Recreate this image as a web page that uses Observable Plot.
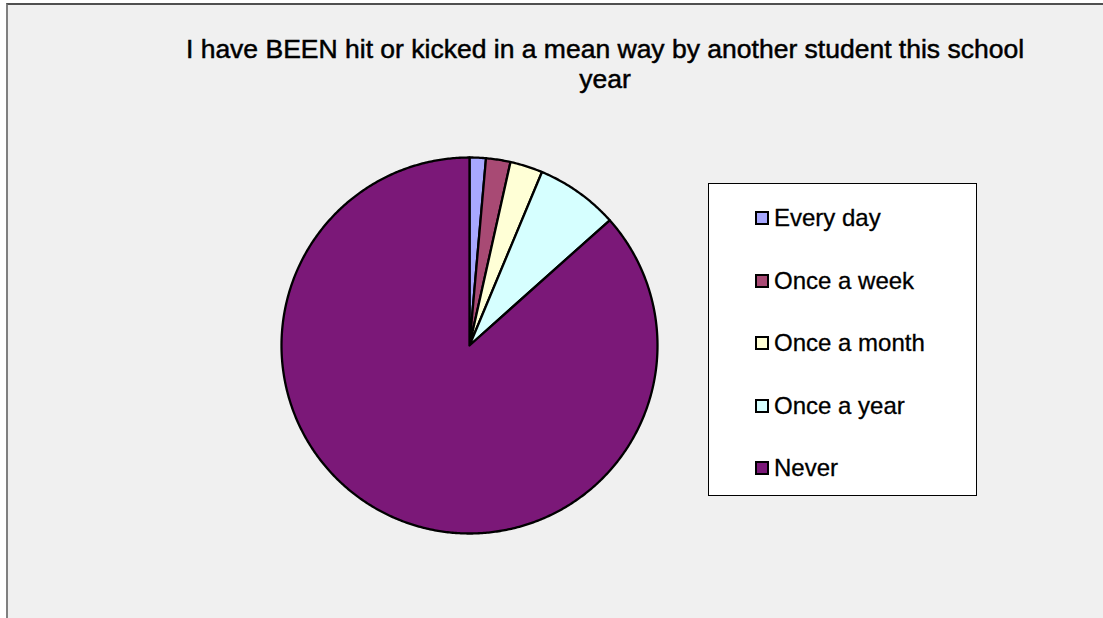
<!DOCTYPE html>
<html>
<head>
<meta charset="utf-8">
<script src="https://cdn.jsdelivr.net/npm/d3@7"></script>
<script src="https://cdn.jsdelivr.net/npm/@observablehq/plot@0.6"></script>
<style>
  html, body { margin: 0; padding: 0; background: #ffffff; width: 1103px; height: 618px; overflow: hidden; font-family: "Liberation Sans", Arial, sans-serif; }
  #frame { position: absolute; left: 6px; top: 3px; width: 1110px; height: 630px; background: #f0f0f0; border-left: 2px solid #808080; border-top: 2px solid #505050; }
  #title { position: absolute; left: 155px; top: 34px; width: 900px; text-align: center; font-size: 26.5px; line-height: 30px; color: #000; -webkit-text-stroke: 0.5px #000; }
  #chart { position: absolute; left: 0; top: 0; }
  #legend { position: absolute; left: 708px; top: 183px; width: 267px; height: 311px; background: #fff; border: 1px solid #000; }
  .item { position: absolute; left: 46px; height: 30px; display: flex; align-items: center; font-size: 24px; color: #000; -webkit-text-stroke: 0.3px #000; }
  .sw { width: 10px; height: 10px; border: 2px solid #000; margin-right: 5px; }
</style>
</head>
<body>
<div id="frame"></div>
<div id="chart"></div>
<div id="title">I have BEEN hit or kicked in a mean way by another student this school<br>year</div>
<div id="legend"></div>
<script>
const categories = ["Every day", "Once a week", "Once a month", "Once a year", "Never"];
const values = [1.4, 2.1, 2.8, 7.1, 86.6];
const colors = ["#a8a8ff", "#a84a74", "#ffffd6", "#d6ffff", "#7b1878"];

const data = categories.map((c, i) => ({label: c, value: values[i]}));
const arcs = d3.pie().sort(null).value(d => d.value)(data);
const pts = [];
for (const a of arcs) {
  const lab = a.data.label;
  pts.push({label: lab, x: 0, y: 0});
  const n = Math.max(2, Math.ceil((a.endAngle - a.startAngle) / (Math.PI / 360)));
  for (let k = 0; k <= n; k++) {
    const t = a.startAngle + (a.endAngle - a.startAngle) * k / n;
    pts.push({label: lab, x: Math.sin(t), y: Math.cos(t)});
  }
  pts.push({label: lab, x: 0, y: 0});
}

const plot = Plot.plot({
  width: 1103,
  height: 618,
  marginLeft: 281,
  marginRight: 446,
  marginTop: 157,
  marginBottom: 85,
  style: {background: "transparent", overflow: "visible"},
  x: {domain: [-1, 1], axis: null},
  y: {domain: [-1, 1], axis: null},
  color: {domain: categories, range: colors},
  marks: [
    Plot.line(pts, {x: "x", y: "y", z: "label", fill: "label", stroke: "#000", strokeWidth: 2.3, strokeLinejoin: "round", curve: "linear"})
  ]
});
document.getElementById("chart").appendChild(plot);

const legend = document.getElementById("legend");
const rowCenters = [34, 97, 159, 222, 284];
categories.forEach((c, i) => {
  const row = document.createElement("div");
  row.className = "item";
  row.style.top = (rowCenters[i] - 15) + "px";
  const sw = document.createElement("div");
  sw.className = "sw";
  sw.style.background = colors[i];
  const tx = document.createElement("span");
  tx.textContent = c;
  row.appendChild(sw);
  row.appendChild(tx);
  legend.appendChild(row);
});
</script>
</body>
</html>
